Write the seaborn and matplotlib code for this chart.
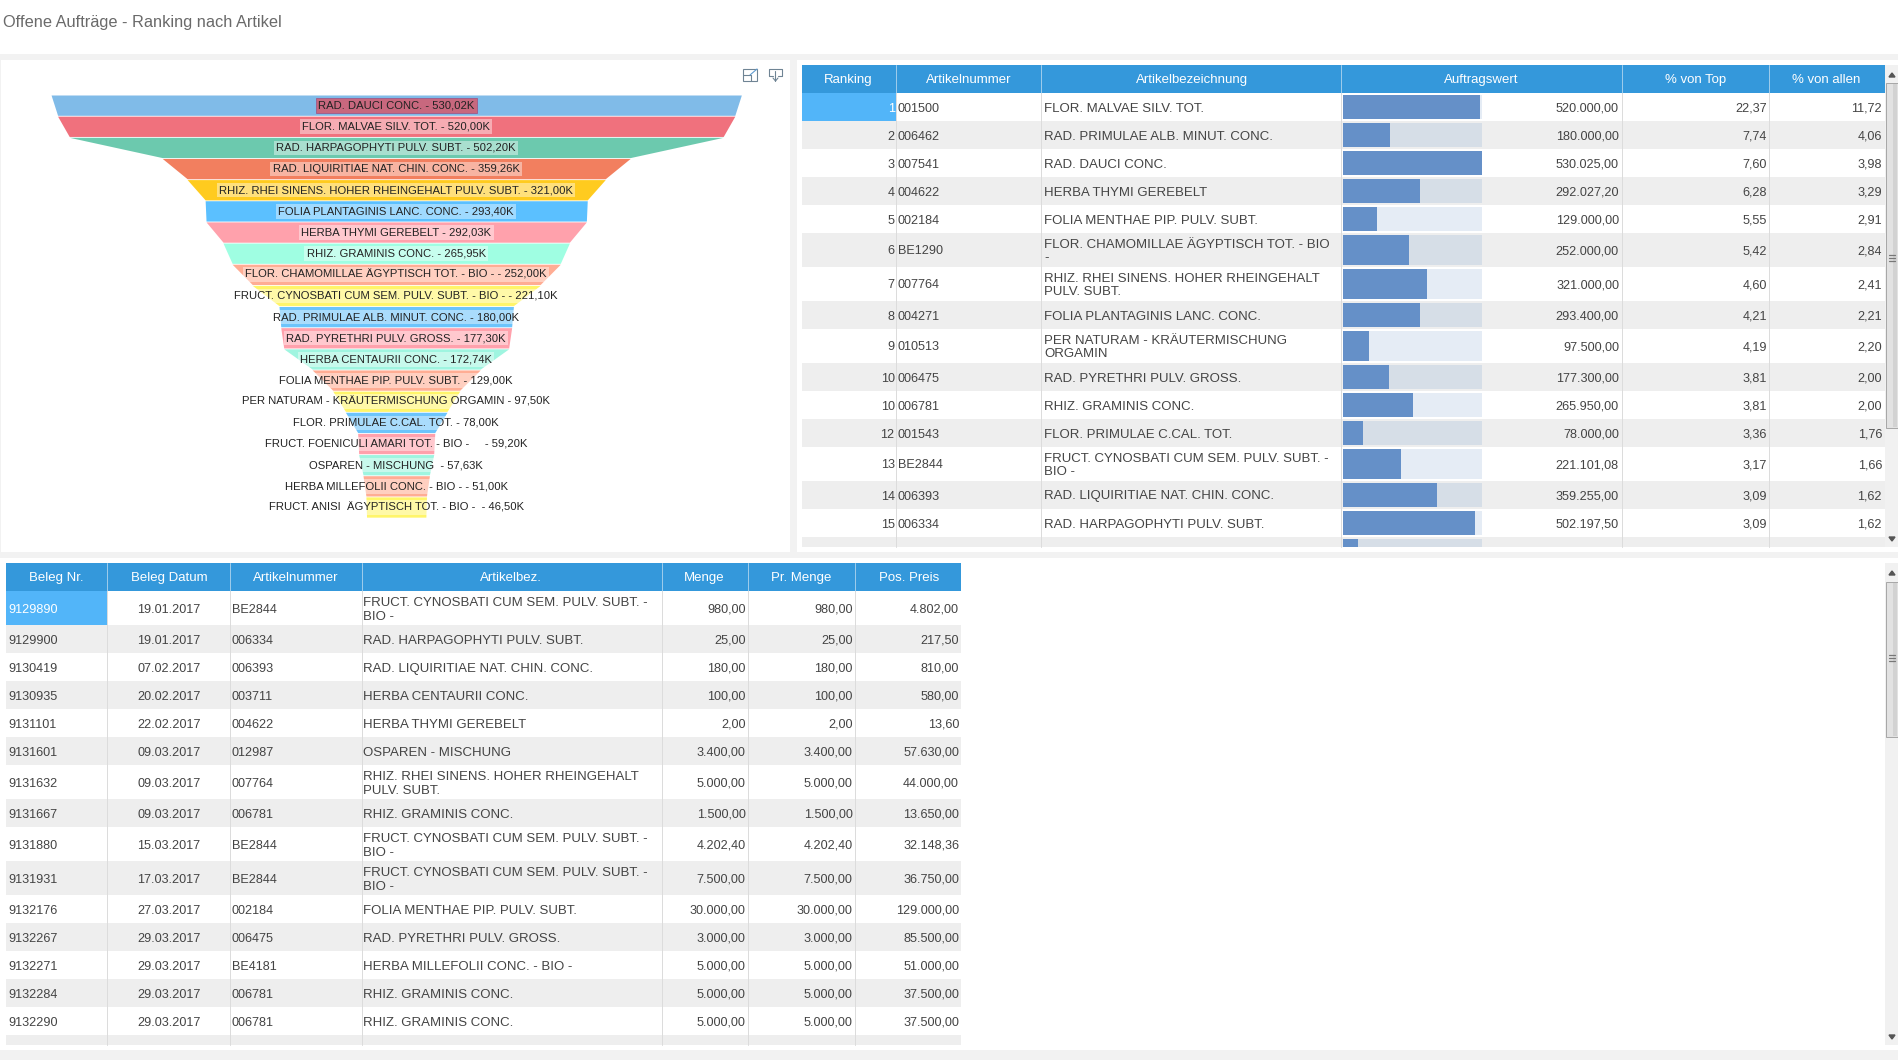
import matplotlib
matplotlib.use("Agg")
import matplotlib.pyplot as plt
from matplotlib.patches import Rectangle, Polygon
import pandas as pd
import seaborn as sns

# ---------- data ----------
funnel_names = [
    "RAD. DAUCI CONC.", "FLOR. MALVAE SILV. TOT.", "RAD. HARPAGOPHYTI PULV. SUBT.",
    "RAD. LIQUIRITIAE NAT. CHIN. CONC.", "RHIZ. RHEI SINENS. HOHER RHEINGEHALT PULV. SUBT.",
    "FOLIA PLANTAGINIS LANC. CONC.", "HERBA THYMI GEREBELT", "RHIZ. GRAMINIS CONC.",
    "FLOR. CHAMOMILLAE ÄGYPTISCH TOT. - BIO -", "FRUCT. CYNOSBATI CUM SEM. PULV. SUBT. - BIO -",
    "RAD. PRIMULAE ALB. MINUT. CONC.", "RAD. PYRETHRI PULV. GROSS.", "HERBA CENTAURII CONC.",
    "FOLIA MENTHAE PIP. PULV. SUBT.", "PER NATURAM - KRÄUTERMISCHUNG ORGAMIN",
    "FLOR. PRIMULAE C.CAL. TOT.", "FRUCT. FOENICULI AMARI TOT. - BIO -    ",
    "OSPAREN - MISCHUNG ", "HERBA MILLEFOLII CONC. - BIO -", "FRUCT. ANISI  ÄGYPTISCH TOT. - BIO - ",
]
funnel_values = [530.02, 520.00, 502.20, 359.26, 321.00, 293.40, 292.03, 265.95, 252.00, 221.10,
                 180.00, 177.30, 172.74, 129.00, 97.50, 78.00, 59.20, 57.63, 51.00, 46.50]
funnel_colors = ["#80BBE8", "#F0717D", "#6CC9AE", "#F27F5F", "#FFCB1F",
                 "#5BC0FF", "#FFA1AC", "#9FFEE2", "#FFAD94", "#FFF56A",
                 "#6CC4FB", "#FFA1AC", "#9FF5E0", "#FFAD94", "#FFF56A",
                 "#6CC4FB", "#FFA1AC", "#9FF5E0", "#FFAD94", "#FFF56A"]

top_headers = ["Ranking", "Artikelnummer", "Artikelbezeichnung", "Auftragswert", "% von Top", "% von allen"]
top_rank = ["1", "2", "3", "4", "5", "6", "7", "8", "9", "10", "10", "12", "13", "14", "15"]
top_number = ["001500", "006462", "007541", "004622", "002184", "BE1290", "007764", "004271",
              "010513", "006475", "006781", "001543", "BE2844", "006393", "006334"]
top_name = ["FLOR. MALVAE SILV. TOT.", "RAD. PRIMULAE ALB. MINUT. CONC.", "RAD. DAUCI CONC.",
            "HERBA THYMI GEREBELT", "FOLIA MENTHAE PIP. PULV. SUBT.",
            "FLOR. CHAMOMILLAE ÄGYPTISCH TOT. - BIO\n-",
            "RHIZ. RHEI SINENS. HOHER RHEINGEHALT\nPULV. SUBT.", "FOLIA PLANTAGINIS LANC. CONC.",
            "PER NATURAM - KRÄUTERMISCHUNG\nORGAMIN", "RAD. PYRETHRI PULV. GROSS.",
            "RHIZ. GRAMINIS CONC.", "FLOR. PRIMULAE C.CAL. TOT.",
            "FRUCT. CYNOSBATI CUM SEM. PULV. SUBT. -\nBIO -", "RAD. LIQUIRITIAE NAT. CHIN. CONC.",
            "RAD. HARPAGOPHYTI PULV. SUBT."]
top_value = [520000.00, 180000.00, 530025.00, 292027.20, 129000.00, 252000.00, 321000.00, 293400.00,
             97500.00, 177300.00, 265950.00, 78000.00, 221101.08, 359255.00, 502197.50]
top_value_partial = 59200.00
top_pct_top = ["22,37", "7,74", "7,60", "6,28", "5,55", "5,42", "4,60", "4,21", "4,19", "3,81",
               "3,81", "3,36", "3,17", "3,09", "3,09"]
top_pct_all = ["11,72", "4,06", "3,98", "3,29", "2,91", "2,84", "2,41", "2,21", "2,20", "2,00",
               "2,00", "1,76", "1,66", "1,62", "1,62"]

low_headers = ["Beleg Nr.", "Beleg Datum", "Artikelnummer", "Artikelbez.", "Menge", "Pr. Menge", "Pos. Preis"]
low_id = ["9129890", "9129900", "9130419", "9130935", "9131101", "9131601", "9131632", "9131667",
          "9131880", "9131931", "9132176", "9132267", "9132271", "9132284", "9132290"]
low_date = ["19.01.2017", "19.01.2017", "07.02.2017", "20.02.2017", "22.02.2017", "09.03.2017",
            "09.03.2017", "09.03.2017", "15.03.2017", "17.03.2017", "27.03.2017", "29.03.2017",
            "29.03.2017", "29.03.2017", "29.03.2017"]
low_number = ["BE2844", "006334", "006393", "003711", "004622", "012987", "007764", "006781",
              "BE2844", "BE2844", "002184", "006475", "BE4181", "006781", "006781"]
low_name = ["FRUCT. CYNOSBATI CUM SEM. PULV. SUBT. -\nBIO -", "RAD. HARPAGOPHYTI PULV. SUBT.",
            "RAD. LIQUIRITIAE NAT. CHIN. CONC.", "HERBA CENTAURII CONC.", "HERBA THYMI GEREBELT",
            "OSPAREN - MISCHUNG", "RHIZ. RHEI SINENS. HOHER RHEINGEHALT\nPULV. SUBT.",
            "RHIZ. GRAMINIS CONC.", "FRUCT. CYNOSBATI CUM SEM. PULV. SUBT. -\nBIO -",
            "FRUCT. CYNOSBATI CUM SEM. PULV. SUBT. -\nBIO -", "FOLIA MENTHAE PIP. PULV. SUBT.",
            "RAD. PYRETHRI PULV. GROSS.", "HERBA MILLEFOLII CONC. - BIO -", "RHIZ. GRAMINIS CONC.",
            "RHIZ. GRAMINIS CONC."]
low_qty = ["980,00", "25,00", "180,00", "100,00", "2,00", "3.400,00", "5.000,00", "1.500,00",
           "4.202,40", "7.500,00", "30.000,00", "3.000,00", "5.000,00", "5.000,00", "5.000,00"]
low_price = ["4.802,00", "217,50", "810,00", "580,00", "13,60", "57.630,00", "44.000,00", "13.650,00",
             "32.148,36", "36.750,00", "129.000,00", "85.500,00", "51.000,00", "37.500,00", "37.500,00"]

# ---------- layout / style ----------
W, H = 1899, 1060
FONT = ["Liberation Sans", "DejaVu Sans"]
BG, STRIPE, HEAD, SELECT, GRID, TXT = "#F2F2F2", "#EEEEEE", "#3498DB", "#52B5F9", "#DCDCDC", "#444444"
FS, FS_NAME, FS_HEAD = 9.1, 9.5, 9.5
ROW1, ROW2 = 28, 34
DY = 1.8

sns.set_theme(style="white")
plt.rcParams["font.family"] = FONT
fig = plt.figure(figsize=(W / 100, H / 100), dpi=100, facecolor=BG)


def px_axes(x0, y0, x1, y1):
    ax = fig.add_axes([x0 / W, 1 - y1 / H, (x1 - x0) / W, (y1 - y0) / H])
    ax.patch.set_alpha(0)
    ax.set_axis_off()
    return ax


base = px_axes(0, 0, W, H)
base.set_xlim(0, W)
base.set_ylim(H, 0)


def rect(x0, y0, x1, y1, color, **kw):
    base.add_patch(Rectangle((x0, y0), x1 - x0, y1 - y0, facecolor=color, edgecolor=kw.pop("edgecolor", "none"),
                             lw=kw.pop("lw", 0), **kw))


def label(x, y, s, ha="left", color=TXT, fs=FS):
    base.text(x, y + DY, s, ha=ha, va="center", color=color, fontsize=fs, linespacing=1.22)


# panels
rect(0, 0, W, 54, "white")
rect(1, 60, 790, 552, "white")
rect(797, 60, W, 552, "white")
rect(0, 558, W, 1050, "white")
base.text(3, 22.5, "Offene Aufträge - Ranking nach Artikel", color="#6A6A6A", fontsize=11.8, va="center")


def row_bounds(names, top):
    ys = [top]
    for n in names:
        ys.append(ys[-1] + (ROW2 if "\n" in n else ROW1))
    return ys


def table_frame(x_edges, head_top, head_bot, ys, y_end, headers, head_centers):
    rect(x_edges[0], head_top, x_edges[-1], head_bot, HEAD)
    for c, h in zip(head_centers, headers):
        label(c, (head_top + head_bot) / 2 - 1, h, ha="center", color="white", fs=FS_HEAD)
    for i in range(len(ys) - 1):
        if i % 2:
            rect(x_edges[0], ys[i], x_edges[-1], ys[i + 1], STRIPE)
    rect(x_edges[0], ys[-1], x_edges[-1], y_end, STRIPE)
    for x in x_edges[1:-1]:
        base.plot([x, x], [head_top, head_bot], color="#9CCBEB", lw=0.72)
        base.plot([x, x], [head_bot, y_end], color=GRID, lw=0.72)


# ---------- top table ----------
t_edges = [802, 896, 1041.3, 1341.3, 1622.3, 1769.5, 1885]
t_centers = [848, 969, 1192, 1481, 1696, 1826]
t_top, t_head, t_end = 65, 92.7, 546.7
t_ys = row_bounds(top_name, t_head)
table_frame(t_edges, t_top, t_head, t_ys, t_end, top_headers, t_centers)
rect(t_edges[0], t_ys[0], t_edges[1], t_ys[1], SELECT)
for i in range(len(top_name)):
    yc = (t_ys[i] + t_ys[i + 1]) / 2
    label(894.6, yc, top_rank[i], ha="right", color="white" if i == 0 else TXT)
    label(898, yc, top_number[i])
    label(1044, yc, top_name[i], fs=FS_NAME)
    label(1619, yc, f"{top_value[i]:,.2f}".replace(",", "#").replace(".", ",").replace("#", "."), ha="right")
    label(1766.7, yc, top_pct_top[i], ha="right")
    label(1882, yc, top_pct_all[i], ha="right")

# Auftragswert bars
bar_vals = top_value + [top_value_partial]
bar_tops = t_ys + [t_ys[-1] + ROW1]
bar_full = max(bar_vals)
ax_bar = px_axes(1342.9, t_head, 1482.2, t_end)
bars = pd.DataFrame({"pos": [(bar_tops[i] + bar_tops[i + 1]) / 2 for i in range(len(bar_vals))],
                     "value": bar_vals, "full": [bar_full] * len(bar_vals)})
sns.barplot(data=bars, x="full", y="pos", orient="y", native_scale=True, color="#6590C8", alpha=0.17,
            saturation=1, errorbar=None, ax=ax_bar, width=0.86)
sns.barplot(data=bars, x="value", y="pos", orient="y", native_scale=True, color="#6590C8",
            saturation=1, errorbar=None, ax=ax_bar, width=0.86)
n_bars = len(bar_vals)
for k, patch in enumerate(ax_bar.patches):
    i = k % n_bars
    patch.set_y(bar_tops[i] + 2.2)
    patch.set_height(bar_tops[i + 1] - bar_tops[i] - 4)
    patch.set_linewidth(0)
ax_bar.set_xlim(0, bar_full)
ax_bar.set_ylim(t_end, t_head)
ax_bar.set_axis_off()

# ---------- bottom table ----------
l_edges = [6, 107.5, 230, 362, 662.5, 748, 855, 961.5]
l_centers = [56, 169, 296, 511, 704, 801, 909]
l_top, l_head, l_end = 563, 591, 1045
l_ys = row_bounds(low_name, l_head)
table_frame(l_edges, l_top, l_head, l_ys, l_end, low_headers, l_centers)
rect(l_edges[0], l_ys[0], l_edges[1], l_ys[1], SELECT)
for i in range(len(low_name)):
    yc = (l_ys[i] + l_ys[i + 1]) / 2
    label(8, yc, low_id[i], color="white" if i == 0 else TXT)
    label(169, yc, low_date[i], ha="center")
    label(232, yc, low_number[i])
    label(363.5, yc, low_name[i], fs=FS_NAME)
    label(745.6, yc, low_qty[i], ha="right")
    label(852.5, yc, low_qty[i], ha="right")
    label(959, yc, low_price[i], ha="right")


# ---------- scrollbars ----------
def scrollbar(y0, y1, th0, th1, grip):
    rect(1885, y0, W, y1, "#F1F1F1")
    rect(1886, th0, 1898, th1, "#E2E2E2", edgecolor="#A8A8A8", lw=0.72)
    rect(1893, th0 + 1, 1897, th1 - 1, "#D2D2D2")
    base.add_patch(Polygon([[1889, y0 + 12], [1895, y0 + 12], [1892, y0 + 8]], color="#555555"))
    base.add_patch(Polygon([[1889, y1 - 10], [1895, y1 - 10], [1892, y1 - 6]], color="#555555"))
    for d in (-3, 0, 3):
        base.plot([1889, 1895], [grip + d, grip + d], color="#777777", lw=0.9)


scrollbar(65, 547, 83, 428, 258)
scrollbar(563, 1045, 582, 737, 658)

# ---------- icons ----------
ICON = "#6F8494"
base.add_patch(Rectangle((743, 69), 14, 12, fill=False, edgecolor=ICON, lw=0.8))
base.plot([743, 751, 751], [75, 75, 81], color=ICON, lw=0.8)
base.plot([750, 757], [75, 69], color="#5F9BD0", lw=0.8)
base.plot([773, 769, 769, 782, 782, 778], [76, 76, 69, 69, 76, 76], color=ICON, lw=0.8)
base.plot([775.5, 775.5], [71, 80.5], color=ICON, lw=0.8)
base.plot([773, 775.5, 778], [78, 81, 78], color=ICON, lw=0.8)

# ---------- funnel ----------
ax_f = px_axes(1, 60, 790, 552)
centre, per_k, first_y, band_h = 396.2, 690.3 / 530.025, 95, 21.15
ax_f.set_xlim((1 - centre) / per_k, (790 - centre) / per_k)
ax_f.set_ylim((552 - first_y) / band_h, (60 - first_y) / band_h)
palette = sns.color_palette(funnel_colors)
n = len(funnel_values)
for i, v in enumerate(funnel_values):
    nxt = funnel_values[i + 1] if i + 1 < n else v * 0.98
    ax_f.fill_betweenx([i, i + 0.96], [-v / 2, -nxt / 2], [v / 2, nxt / 2], color=palette[i], lw=0)
    txt = funnel_names[i] + " - " + f"{v:.2f}".replace(".", ",") + "K"
    box = dict(facecolor="#C8687E", edgecolor="#9E5A8A", lw=0.6, pad=1.6) if i == 0 else \
        dict(facecolor="white", alpha=0.42, edgecolor="none", pad=1.6)
    ax_f.text(0, i + 0.5, txt, ha="center", va="center", fontsize=8.1, color="#222222", bbox=box)

fig.savefig("out.png", dpi=100, facecolor=BG)
